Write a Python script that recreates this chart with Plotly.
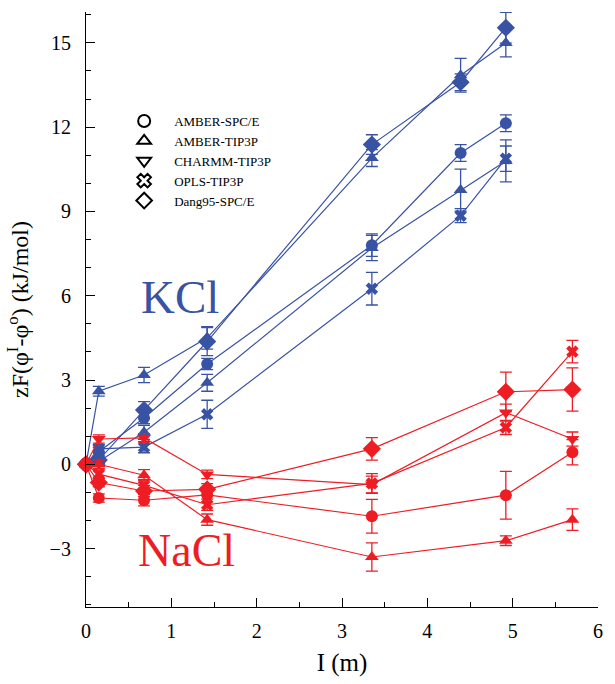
import plotly.graph_objects as go

# Ionic strength values (m)
x_kcl = [0, 0.15, 0.68, 1.42, 3.35, 4.39, 4.92]
x_nacl = [0, 0.15, 0.68, 1.42, 3.35, 4.92, 5.70]

# KCl series (kJ/mol)
kcl_amber_spce = [0, 0.45, 1.65, 3.57, 7.8, 11.08, 12.14]
kcl_amber_spce_err = [0, 0.15, 0.2, 0.2, 0.4, 0.3, 0.3]
kcl_amber_tip3p = [0, 2.6, 3.18, 4.5, 10.9, 13.85, 15.0]
kcl_amber_tip3p_err = [0, 0.17, 0.27, 0.4, 0.3, 0.6, 0.5]
kcl_charmm_tip3p = [0, 0.1, 1.14, 2.9, 7.7, 9.76, 10.8]
kcl_charmm_tip3p_err = [0, 0.15, 0.25, 0.3, 0.45, 0.75, 0.75]
kcl_opls_tip3p = [0, 0.55, 0.61, 1.78, 6.25, 8.85, 10.88]
kcl_opls_tip3p_err = [0, 0.15, 0.2, 0.5, 0.58, 0.25, 0.45]
kcl_dang95_spce = [0, 0.15, 1.93, 4.37, 11.38, 13.6, 15.54]
kcl_dang95_spce_err = [0, 0.15, 0.3, 0.5, 0.35, 0.3, 0.55]

# NaCl series (kJ/mol)
nacl_amber_spce = [0, -1.2, -1.28, -1.09, -1.85, -1.1, 0.43]
nacl_amber_spce_err = [0, 0.15, 0.2, 0.25, 0.6, 0.85, 0.45]
nacl_amber_tip3p = [0, 0.0, -0.39, -1.97, -3.3, -2.72, -1.97]
nacl_amber_tip3p_err = [0, 0.15, 0.2, 0.2, 0.5, 0.17, 0.38]
nacl_charmm_tip3p = [0, 0.9, 0.94, -0.36, -0.72, 1.84, 0.9]
nacl_charmm_tip3p_err = [0, 0.15, 0.15, 0.15, 0.3, 0.3, 0.25]
nacl_opls_tip3p = [0, -0.35, -0.75, -1.44, -0.68, 1.31, 4.01]
nacl_opls_tip3p_err = [0, 0.15, 0.2, 0.2, 0.35, 0.25, 0.4]
nacl_dang95_spce = [0, -0.65, -0.95, -0.89, 0.55, 2.58, 2.66]
nacl_dang95_spce_err = [0, 0.15, 0.2, 0.2, 0.4, 0.7, 0.77]

legend_names = ["AMBER-SPC/E", "AMBER-TIP3P", "CHARMM-TIP3P", "OPLS-TIP3P", "Dang95-SPC/E"]
legend_symbols = ["circle-open", "triangle-up-open", "triangle-down-open", "x-open", "diamond-open"]

BLUE = "#3953a4"
RED = "#ee1d24"
FONT = "Liberation Serif"

fig = go.Figure()

kcl_series = [
    (kcl_amber_spce, kcl_amber_spce_err, "circle", 12),
    (kcl_amber_tip3p, kcl_amber_tip3p_err, "triangle-up", 12),
    (kcl_charmm_tip3p, kcl_charmm_tip3p_err, "triangle-up", 12),
    (kcl_opls_tip3p, kcl_opls_tip3p_err, "x", 11),
    (kcl_dang95_spce, kcl_dang95_spce_err, "diamond", 14),
]
nacl_series = [
    (nacl_amber_spce, nacl_amber_spce_err, "circle", 12),
    (nacl_amber_tip3p, nacl_amber_tip3p_err, "triangle-up", 12),
    (nacl_charmm_tip3p, nacl_charmm_tip3p_err, "triangle-down", 12),
    (nacl_opls_tip3p, nacl_opls_tip3p_err, "x", 11),
    (nacl_dang95_spce, nacl_dang95_spce_err, "diamond", 14),
]

for xs, series, color in [(x_kcl, kcl_series, BLUE), (x_nacl, nacl_series, RED)]:
    for ys, errs, sym, size in series:
        fig.add_trace(go.Scatter(
            x=xs, y=ys, mode="lines+markers",
            line=dict(color=color, width=1.2),
            marker=dict(symbol=sym, size=size, color=color, line=dict(width=0)),
            error_y=dict(type="data", array=errs, visible=True, color=color,
                         thickness=1.3, width=6),
            showlegend=False, cliponaxis=False,
        ))

for name, sym in zip(legend_names, legend_symbols):
    fig.add_trace(go.Scatter(
        x=[None], y=[None], mode="markers", name=name,
        marker=dict(symbol=sym, size=11, color="black", line=dict(width=1, color="black")),
    ))

fig.add_annotation(x=1.10, y=5.95, text="KCl", showarrow=False,
                   font=dict(family=FONT, size=47, color=BLUE))
fig.add_annotation(x=1.18, y=-3.08, text="NaCl", showarrow=False,
                   font=dict(family=FONT, size=46, color=RED))

fig.update_layout(
    width=615, height=684,
    margin=dict(l=86, r=14, t=12, b=71),
    paper_bgcolor="white", plot_bgcolor="white",
    font=dict(family=FONT, color="black"),
    showlegend=True,
    legend=dict(x=0.055, y=0.842, xanchor="left", yanchor="top",
                bgcolor="rgba(0,0,0,0)", font=dict(family=FONT, size=13, color="black"),
                itemsizing="constant", itemwidth=50),
    xaxis=dict(range=[0, 6], dtick=1, tick0=0, showline=True, linecolor="black",
               linewidth=1.2, ticks="inside", ticklen=9, tickcolor="black",
               showgrid=False, zeroline=False,
               tickfont=dict(family=FONT, size=20, color="black"),
               ticklabelstandoff=6,
               minor=dict(dtick=0.5, ticks="inside", ticklen=5, tickcolor="black"),
               title=dict(text="I (m)", font=dict(family=FONT, size=25, color="black"),
                          standoff=12)),
    yaxis=dict(range=[-5.08, 16.1], tickvals=[-3, 0, 3, 6, 9, 12, 15],
               showline=True, linecolor="black", linewidth=1.2,
               ticks="inside", ticklen=9, tickcolor="black",
               showgrid=False, zeroline=False,
               tickfont=dict(family=FONT, size=20, color="black"),
               ticklabelstandoff=10,
               minor=dict(dtick=1, tick0=0, ticks="inside", ticklen=5, tickcolor="black"),
               title=dict(text="zF(φ<sup>I</sup>-φ<sup>o</sup>) (kJ/mol)",
                          font=dict(family=FONT, size=24, color="black"), standoff=14)),
)

fig.write_html("out.html")
